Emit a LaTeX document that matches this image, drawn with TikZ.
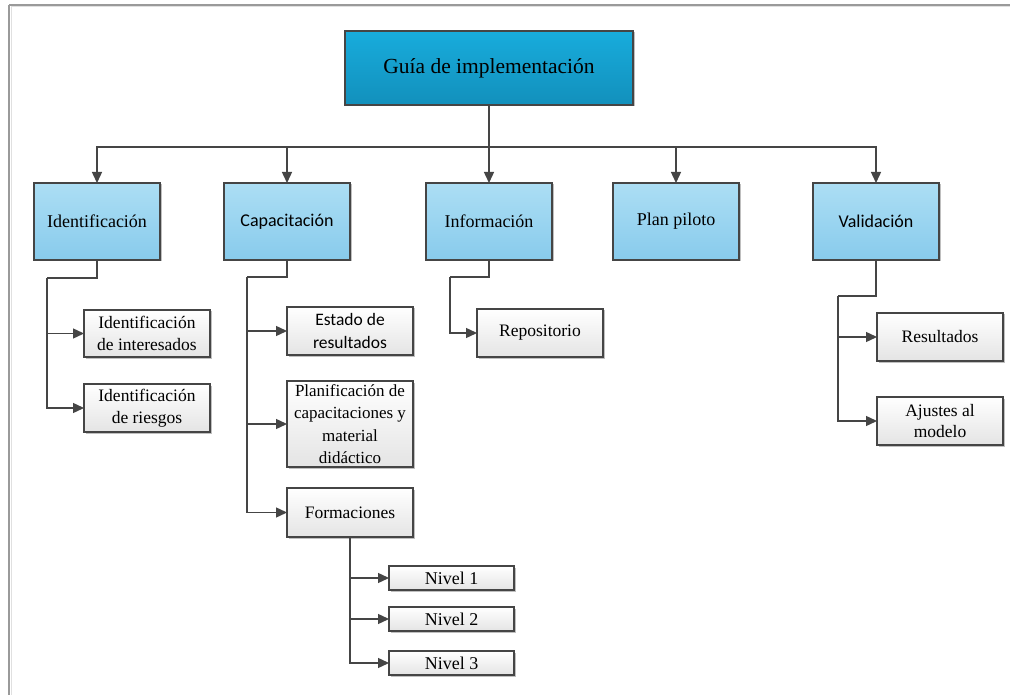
\documentclass[tikz,border=0pt]{standalone}
\usepackage{fontspec}
\setmainfont{Liberation Serif}
\newfontfamily\calfont{Carlito}
\usetikzlibrary{arrows.meta,shadows}
\definecolor{linec}{HTML}{454545}
\definecolor{topA}{HTML}{18ACDC}
\definecolor{topB}{HTML}{1290BC}
\definecolor{midA}{HTML}{ACDEF4}
\definecolor{midB}{HTML}{88CBEC}
\definecolor{lowA}{HTML}{FFFFFF}
\definecolor{lowB}{HTML}{E4E4E4}
\definecolor{framec}{HTML}{9A9A9A}
\begin{document}
\begin{tikzpicture}[x=1pt,y=-1pt,
  conn/.style={draw=linec, line width=1.4pt},
  arr/.style={conn, -{Triangle[length=11pt,width=10pt]}},
  base/.style={draw=linec, line width=1.3pt, anchor=north west, align=center, inner sep=1pt, outer sep=0pt,
     drop shadow={shadow xshift=1.5pt, shadow yshift=-1.5pt, opacity=0.25, fill=black}},
  rootbox/.style={base, top color=topA, bottom color=topB, minimum width=288pt, minimum height=74pt, font=\fontsize{21.5}{24}\selectfont},
  midbox/.style={base, top color=midA, bottom color=midB, minimum width=126pt, minimum height=77pt, font=\fontsize{18}{21}\selectfont},
  lowbox/.style={base, top color=lowA, bottom color=lowB, minimum width=126pt, font=\fontsize{17.5}{21.5}\selectfont},
  nivbox/.style={base, top color=lowA, bottom color=lowB, minimum width=125pt, minimum height=24pt, font=\fontsize{18}{19}\selectfont},
]
\useasboundingbox (0,0) rectangle (1010,695);
\fill[white] (0,0) rectangle (1010,695);
% frame
\draw[framec, line width=2pt] (9,5) -- (1010,5);
\draw[framec, line width=2pt] (9,5) -- (9,695);
\draw[black!12, line width=1pt] (11,7) -- (1010,7);
\draw[black!12, line width=1pt] (11,7) -- (11,695);

% nodes
\node[rootbox] (root) at (345,31) {Guía de implementación};
\node[midbox] (ident) at (34,183) {Identificación};
\node[midbox, font=\calfont\fontsize{18}{21}\selectfont] (capa) at (224,183) {Capacitación};
\node[midbox] (info) at (426,183) {Información};
\node[midbox] (plan) at (613,183) {Plan piloto};
\node[midbox, font=\calfont\fontsize{18}{21}\selectfont] (vali) at (813,183) {Validación};

\node[lowbox, minimum height=47pt] (id1) at (84,310) {Identificación\\de interesados};
\node[lowbox, minimum height=48pt] (id2) at (84,384) {Identificación\\de riesgos};

\node[lowbox, minimum height=48pt, font=\calfont\fontsize{17.5}{22.5}\selectfont] (ca1) at (287,307) {Estado de\\resultados};
\node[lowbox, minimum height=86pt, font=\fontsize{17}{22.5}\selectfont] (ca2) at (287,381) {Planificación de\\capacitaciones y\\material\\didáctico};
\node[lowbox, minimum height=49pt] (ca3) at (287,488) {Formaciones};

\node[nivbox] (n1) at (389,566) {Nivel 1};
\node[nivbox] (n2) at (389,607) {Nivel 2};
\node[nivbox] (n3) at (389,651) {Nivel 3};

\node[lowbox, minimum height=48pt] (rep) at (477,309) {Repositorio};

\node[lowbox, minimum height=48pt] (va1) at (877,313) {Resultados};
\node[lowbox, minimum height=48pt, font=\fontsize{17.5}{21.5}\selectfont] (va2) at (877,397) {Ajustes al\\modelo};

% connectors
\coordinate (hub) at (489,147);
\draw[conn] (root.south) -- (hub);
\draw[arr] (hub) -| (ident.north);
\draw[arr] (hub) -| (capa.north);
\draw[arr] (hub) -- (info.north);
\draw[arr] (hub) -| (plan.north);
\draw[arr] (hub) -| (vali.north);

\coordinate (idb) at (47,278);
\draw[conn] (ident.south) |- (idb);
\draw[arr] (idb) |- (id1.west);
\draw[arr] (idb) |- (id2.west);

\coordinate (cab) at (247,277);
\draw[conn] (capa.south) |- (cab);
\draw[arr] (cab) |- (ca1.west);
\draw[arr] (cab) |- (ca2.west);
\draw[arr] (cab) |- (ca3.west);

\draw[arr] (ca3.south) |- (n1.west);
\draw[arr] (ca3.south) |- (n2.west);
\draw[arr] (ca3.south) |- (n3.west);

\coordinate (inb) at (450,277);
\draw[conn] (info.south) |- (inb);
\draw[arr] (inb) |- (rep.west);

\coordinate (vab) at (838,296);
\draw[conn] (vali.south) |- (vab);
\draw[arr] (vab) |- (va1.west);
\draw[arr] (vab) |- (va2.west);
\end{tikzpicture}
\end{document}
